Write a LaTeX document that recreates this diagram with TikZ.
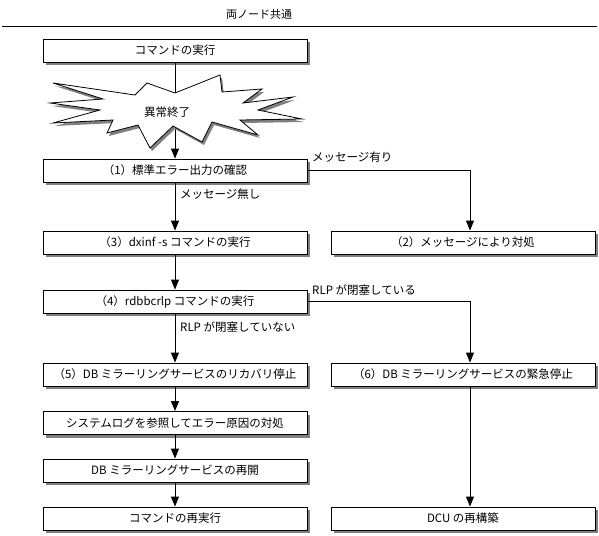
\documentclass[tikz,border=0pt]{standalone}
\usepackage{fontspec}
\setmainfont{Noto Sans CJK JP}
\usetikzlibrary{arrows.meta, shadows, positioning}

\begin{document}
\begin{tikzpicture}[x=1pt, y=-1pt,
    stepbox/.style={draw, line width=0.9pt, fill=white, minimum width=264pt, minimum height=23pt, inner sep=0pt,
        font=\fontsize{11.5}{13}\selectfont,
        drop shadow={shadow xshift=3pt, shadow yshift=-3pt, fill=black!50, opacity=1}},
    note/.style={anchor=west, inner sep=0pt, font=\fontsize{11.5}{13}\selectfont},
    flow/.style={line width=0.9pt, -{Triangle[width=8pt, length=10pt]}}]
        \useasboundingbox (0,0) rectangle (599,535);
        \node[font=\fontsize{11}{13}\selectfont] (title) at (259,14) {両ノード共通};
        \draw[line width=0.9pt] (2,26) -- (597,26);
        % left column
        \node[stepbox] (cmd) at (175,50.5) {コマンドの実行};
        \node[stepbox] (chk) at (175,170.5) {（1）標準エラー出力の確認};
        \node[stepbox] (dx) at (175,242.5) {（3）dxinf -s コマンドの実行};
        \node[stepbox] (rdb) at (175,301.5) {（4）rdbbcrlp コマンドの実行};
        \node[stepbox] (rec) at (175,374.5) {（5）DB ミラーリングサービスのリカバリ停止};
        \node[stepbox] (log) at (175,423) {システムログを参照してエラー原因の対処};
        \node[stepbox] (rsm) at (175,470.5) {DB ミラーリングサービスの再開};
        \node[stepbox] (rerun) at (175,518.5) {コマンドの再実行};
        % right column
        \node[stepbox] (msg) at (463,242.5) {（2）メッセージにより対処};
        \node[stepbox] (emg) at (463,374.5) {（6）DB ミラーリングサービスの緊急停止};
        \node[stepbox] (dcu) at (463,518.5) {DCU の再構築};
        % connectors
        \draw[flow] (cmd.south) -- (chk.north);
        \draw[flow] (chk.south) -- (dx.north);
        \draw[flow] (chk.east) -| ([xshift=7pt]msg.north);
        \draw[flow] (dx.south) -- (rdb.north);
        \draw[flow] (rdb.south) -- (rec.north);
        \draw[flow] (rdb.east) -| ([xshift=7pt]emg.north);
        \draw[flow] (rec.south) -- (log.north);
        \draw[flow] (log.south) -- (rsm.north);
        \draw[flow] (rsm.south) -- (rerun.north);
        \draw[flow] ([xshift=7pt]emg.south) -- ([xshift=7pt]dcu.north);
        % abnormal end
        \filldraw[fill=white, line width=0.8pt, drop shadow={shadow xshift=2pt, shadow yshift=-3pt, fill=black!50, opacity=1}]
            (175,93) -- (220,75) -- (222,92) -- (262,89) -- (243,103) -- (293,97) -- (258,110) -- (302,119)
            -- (240,120) -- (258,135) -- (212,122) -- (202,142) -- (173,126) -- (150,148) -- (138,125)
            -- (107,133) -- (113,120) -- (53,123) -- (100,110) -- (50,103) -- (103,99) -- (53,83)
            -- (135,95) -- (147,83) -- cycle;
        \node[font=\fontsize{11.5}{13}\selectfont] (abend) at (167,112) {異常終了};
        % labels
        \node[note] (yes) at (312,157) {メッセージ有り};
        \node[note] (no) at (180,194) {メッセージ無し};
        \node[note] (closed) at (312,290) {RLP が閉塞している};
        \node[note] (open) at (180,327) {RLP が閉塞していない};
\end{tikzpicture}
\end{document}
